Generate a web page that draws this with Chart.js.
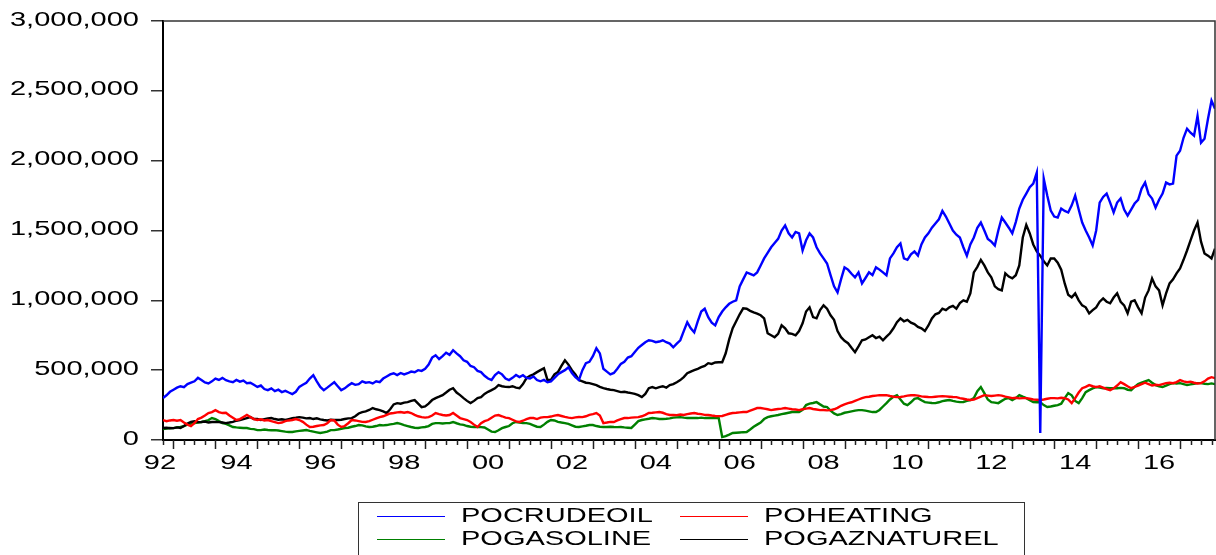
<!DOCTYPE html>
<html><head><meta charset="utf-8">
<script src="https://cdn.jsdelivr.net/npm/chart.js@4.4.1/dist/chart.umd.min.js"></script>
<style>html,body{margin:0;padding:0;background:#fff;}canvas{display:block;}</style>
</head><body>
<canvas id="c" width="1216" height="555"></canvas>
<script>
// Monthly observations, Oct 1992 .. Nov 2017, values in thousands
const startYear = 1992, startMonth = 9; // October 1992 (0-based month)
const yearTickLabels = ['92','94','96','98','00','02','04','06','08','10','12','14','16'];
const yTicks = [0,500000,1000000,1500000,2000000,2500000,3000000];
const seriesNames = ['POCRUDEOIL','POHEATING','POGASOLINE','POGAZNATUREL'];

const pocrudeoil = [
300,320,345,
360,375,385,378,400,410,420,445,430,412,405,420,
440,430,445,428,420,414,430,418,425,407,410,395,
380,390,365,357,370,350,360,343,352,340,329,345,
380,395,410,440,464,420,380,357,375,395,414,385,
357,370,390,407,395,400,420,410,414,405,420,414,
440,455,470,478,465,480,470,478,490,485,500,495,
510,540,590,607,580,600,625,610,643,620,600,571,
560,530,521,495,486,460,440,430,465,486,470,440,
429,445,465,450,464,445,440,455,429,420,430,414,
420,445,470,486,500,521,480,450,429,500,550,560,
600,657,620,510,490,470,480,510,545,560,590,600,
630,660,680,700,714,710,700,705,714,700,690,664,
690,714,780,843,800,771,850,920,940,880,840,821,
880,920,950,975,990,1000,1100,1150,1200,1190,1179,1200,
1250,1300,1340,1380,1410,1440,1500,1536,1480,1450,1490,1479,
1357,1430,1479,1450,1380,1336,1300,1264,1180,1100,1057,1150,
1236,1220,1190,1164,1200,1121,1160,1200,1180,1236,1220,1200,
1179,1300,1336,1380,1407,1300,1290,1330,1350,1320,1400,1450,
1480,1520,1550,1580,1640,1600,1550,1500,1470,1450,1380,1320,
1400,1450,1520,1557,1500,1440,1420,1393,1500,1593,1557,1520,
1479,1560,1657,1720,1764,1810,1836,1914,50,1871,1750,1643,
1600,1593,1657,1640,1629,1680,1750,1650,1557,1500,1450,1393,
1500,1700,1740,1764,1700,1629,1700,1729,1650,1607,1650,1693,
1720,1800,1843,1760,1729,1664,1720,1764,1843,1830,1836,2036,
2071,2164,2229,2200,2179,2321,2129,2157,2300,2430,2371];

const poheating = [
143,135,140,
143,138,143,125,110,100,120,150,160,175,193,200,
214,200,193,195,175,160,143,150,165,179,165,150,
143,148,140,143,135,128,121,125,135,140,143,150,
143,130,110,93,95,100,105,107,120,143,140,110,
93,100,120,143,140,135,130,129,135,145,155,164,
170,180,190,193,198,200,195,200,193,180,170,164,
160,164,175,193,185,179,175,179,193,175,157,150,
143,129,110,93,120,135,143,160,175,179,170,160,
157,145,133,129,138,150,157,157,150,160,164,164,
168,175,179,172,165,160,157,162,165,164,170,180,
185,193,175,121,125,130,129,140,150,157,157,160,
162,164,170,180,193,195,198,200,195,185,179,180,
178,182,179,185,190,193,188,185,180,179,175,172,
171,172,180,188,193,195,198,200,200,210,220,229,
229,225,220,214,218,222,225,229,225,220,218,214,
220,225,229,222,218,214,215,212,214,220,230,245,
255,264,270,280,290,300,307,310,315,318,321,320,
321,315,310,307,308,312,318,320,321,318,312,310,
308,307,310,312,314,312,310,308,307,300,295,290,
286,290,300,310,321,318,315,318,321,318,310,305,
300,302,298,300,300,295,290,288,286,290,295,300,
300,298,302,300,290,264,300,340,371,380,393,385,
379,385,375,365,357,370,390,414,400,385,371,380,
390,400,410,400,390,395,393,400,407,410,407,415,
429,420,414,418,410,405,407,420,440,450,443];

const pogasoline = [
79,82,86,
85,90,93,100,110,118,121,125,129,135,143,157,
150,135,121,115,105,93,90,88,86,86,80,78,
71,71,75,72,70,71,68,64,60,57,57,62,
65,68,71,65,60,55,50,55,60,71,71,75,
80,86,88,95,100,107,105,98,93,95,100,107,
105,107,112,115,121,115,107,100,93,88,86,90,
93,100,115,121,121,118,121,121,129,120,112,108,
100,95,93,93,92,90,75,60,57,70,85,93,
100,120,129,125,121,121,115,105,95,93,110,130,
143,140,130,125,121,115,105,95,93,98,102,107,
107,100,95,93,93,95,93,92,93,90,88,86,
110,135,143,148,152,157,155,150,150,152,155,160,
162,164,160,158,157,158,157,160,157,158,157,157,
157,21,28,38,50,52,54,56,57,75,95,110,
125,150,164,170,175,179,185,190,195,200,200,200,
215,250,260,265,271,255,240,236,210,190,179,185,
195,200,205,210,214,214,210,205,200,200,215,240,
264,290,310,321,290,260,250,270,295,300,285,271,
268,265,264,270,278,283,286,280,275,271,272,280,
286,300,350,379,336,290,271,268,264,280,295,300,
286,300,321,310,300,285,271,270,271,250,236,240,
245,250,260,300,336,320,280,264,300,343,357,370,
379,375,371,372,371,370,371,373,371,360,357,380,
400,410,420,429,410,393,385,379,390,400,407,405,
407,400,393,398,403,407,407,403,400,405,400];

const pogaznaturel = [
86,88,84,
85,90,86,100,118,129,135,128,129,132,125,129,
130,128,125,121,125,130,138,143,150,157,164,150,
150,143,150,155,157,150,145,148,143,150,157,160,
164,160,155,157,150,155,148,143,140,145,143,143,
145,150,155,157,170,190,200,205,215,229,220,214,
205,193,220,255,264,260,268,271,280,286,260,235,
240,260,286,300,310,321,340,360,371,340,321,300,
280,264,280,300,307,330,345,357,370,393,385,380,
379,385,375,371,400,443,460,470,486,500,514,430,
430,470,486,530,571,540,500,470,429,420,410,407,
400,393,380,371,365,360,357,350,343,345,340,336,
330,321,307,330,371,379,370,379,385,375,393,400,
414,429,450,478,490,500,510,521,530,550,545,555,
557,557,621,720,800,850,900,943,940,925,914,905,
893,870,764,750,736,760,821,800,764,760,750,780,
836,920,950,880,871,930,964,940,893,860,780,736,
710,693,660,629,670,714,720,735,750,730,740,714,
740,764,800,843,871,850,860,840,830,810,800,780,
820,870,900,910,940,930,950,960,940,980,1000,990,
1050,1200,1240,1290,1250,1200,1164,1100,1080,1071,1193,1170,
1157,1180,1250,1450,1540,1479,1400,1350,1320,1280,1250,1300,
1300,1270,1220,1121,1040,1021,1050,1000,964,950,907,930,
950,990,1014,990,979,1020,1050,990,964,907,990,1000,
950,907,1020,1071,1157,1100,1071,964,1050,1121,1150,1193,
1229,1290,1357,1430,1500,1557,1420,1336,1320,1300,1370];

// time index (fractional years) for each monthly observation
const dates = pocrudeoil.map((_, i) => startYear + (startMonth + i) / 12);
const X_MIN = dates[0], X_MAX = dates[dates.length - 1];

const SX = 1.45;
const FONT = '20px "Liberation Sans", Arial, Helvetica, sans-serif';
function stretchText(ctx, s, x, y, align) {
  ctx.save(); ctx.translate(x, y); ctx.scale(SX, 1);
  ctx.textAlign = align; ctx.textBaseline = 'middle'; ctx.fillText(s, 0, 0);
  ctx.restore();
}
const toPts = arr => arr.map((v, i) => ({x: dates[i], y: v * 1000}));

const decor = {
  id: 'decor',
  afterDraw(chart) {
    const ctx = chart.ctx, xs = chart.scales.x, ys = chart.scales.y, a = chart.chartArea;
    ctx.save();
    ctx.strokeStyle = '#333'; ctx.lineWidth = 1.5;
    ctx.beginPath(); ctx.moveTo(a.left, a.top); ctx.lineTo(a.right, a.top); ctx.lineTo(a.right, a.bottom); ctx.stroke();
    ctx.font = FONT; ctx.fillStyle = '#000';
    yTicks.forEach(v => {
      stretchText(ctx, v.toLocaleString('en-US'), 139, ys.getPixelForValue(v) - 1, 'right');
    });
    ctx.strokeStyle = '#222'; ctx.lineWidth = 1.5;
    for (let q = Math.ceil(X_MIN * 4 - 1e-6); q <= Math.floor(X_MAX * 4 + 1e-6); q++) {
      const px = Math.round(xs.getPixelForValue(q / 4)) + 0.5;
      const len = (q % 4 === 0) ? 9 : 5;
      ctx.beginPath(); ctx.moveTo(px, a.bottom); ctx.lineTo(px, a.bottom + len); ctx.stroke();
    }
    yearTickLabels.forEach((lab, k) => {
      const yr = 1992 + 2 * k;
      let px = xs.getPixelForValue(yr + 0.5);
      if (px < a.left) px = a.left - 3;
      stretchText(ctx, lab, px, 463, 'center');
    });
    const L = 358.5, T = 502.5, R = 1024.5;
    ctx.strokeStyle = '#333'; ctx.lineWidth = 1;
    ctx.strokeRect(L, T, R - L, 80);
    const items = [
      {c: '#0000ff', t: seriesNames[0], x: 377, y: 516},
      {c: '#ff0000', t: seriesNames[1], x: 680, y: 516},
      {c: '#008000', t: seriesNames[2], x: 377, y: 539},
      {c: '#000000', t: seriesNames[3], x: 680, y: 539}
    ];
    items.forEach(it => {
      ctx.strokeStyle = it.c; ctx.lineWidth = 1.2;
      ctx.beginPath(); ctx.moveTo(it.x, it.y + 0.5); ctx.lineTo(it.x + 68, it.y + 0.5); ctx.stroke();
      ctx.fillStyle = '#000';
      stretchText(ctx, it.t, it.x + 84, it.y, 'left');
    });
    ctx.restore();
  }
};

new Chart(document.getElementById('c'), {
  type: 'line',
  data: {
    datasets: [
      {label: seriesNames[0], data: toPts(pocrudeoil), borderColor: '#0000ff'},
      {label: seriesNames[1], data: toPts(poheating), borderColor: '#ff0000'},
      {label: seriesNames[3], data: toPts(pogaznaturel), borderColor: '#000000'},
      {label: seriesNames[2], data: toPts(pogasoline), borderColor: '#008000'}
    ]
  },
  options: {
    responsive: false, animation: false, devicePixelRatio: 1,
    layout: {padding: {top: 21, right: 1, left: 0, bottom: 0}},
    plugins: {legend: {display: false}, tooltip: {enabled: false}},
    elements: {point: {radius: 0}, line: {borderWidth: 2.4, tension: 0}},
    scales: {
      x: {type: 'linear', min: X_MIN, max: X_MAX,
          ticks: {display: false}, grid: {display: false},
          border: {display: true, color: '#000', width: 2},
          afterFit(s) { s.height = 115; }},
      y: {type: 'linear', min: 0, max: 3000000,
          afterBuildTicks(s) { s.ticks = yTicks.map(v => ({value: v})); },
          ticks: {display: false},
          grid: {drawOnChartArea: false, drawTicks: true, tickLength: 12, color: '#333', lineWidth: 1.5},
          border: {display: true, color: '#000', width: 2},
          afterFit(s) { s.width = 163; }}
    }
  },
  plugins: [decor]
});
</script>
</body></html>
